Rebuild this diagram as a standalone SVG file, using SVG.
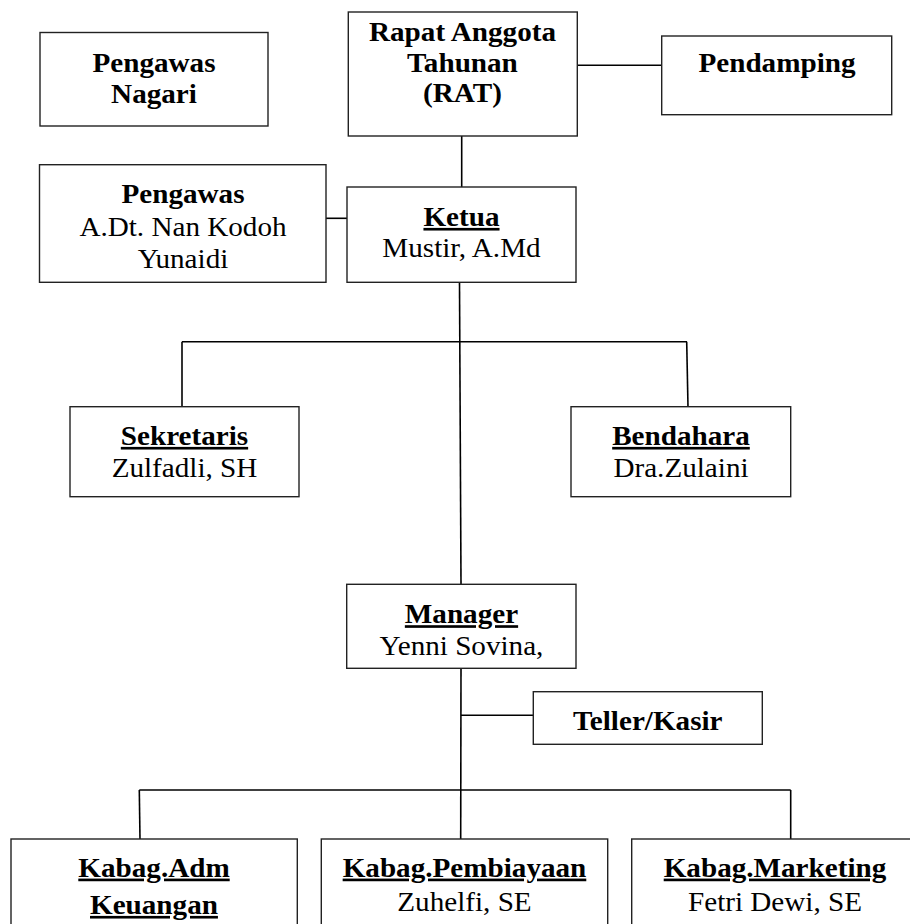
<svg xmlns="http://www.w3.org/2000/svg" width="910" height="924" viewBox="0 0 910 924">
<style>
.box{fill:#fff;stroke:#222;stroke-width:1.4}
.ln{stroke:#000;stroke-width:1.6;fill:none}
.t{font-size:26.5px;text-anchor:middle;transform-box:fill-box;transform-origin:center;transform:scaleX(1.1)}
.b{font-weight:bold}
.u{font-weight:bold;text-decoration:underline}
</style>
<rect width="910" height="924" fill="#fff"/>
<g id="connectors">
<line class="ln" x1="577" y1="65.3" x2="662" y2="65.3"/>
<line class="ln" x1="461.7" y1="136" x2="461.7" y2="187"/>
<line class="ln" x1="326" y1="218.3" x2="347" y2="218.3"/>
<line class="ln" x1="459.5" y1="282" x2="461" y2="584"/>
<line class="ln" x1="182" y1="341.7" x2="687" y2="341.7"/>
<line class="ln" x1="182" y1="341.7" x2="182" y2="407"/>
<line class="ln" x1="686.7" y1="341.7" x2="688" y2="407"/>
<line class="ln" x1="461" y1="668" x2="460.7" y2="839"/>
<line class="ln" x1="461" y1="715.3" x2="533" y2="715.3"/>
<line class="ln" x1="139.3" y1="790" x2="790.7" y2="790"/>
<line class="ln" x1="139.3" y1="790" x2="140" y2="839"/>
<line class="ln" x1="790.7" y1="790" x2="790.7" y2="839"/>
</g>
<g id="pengawas-nagari">
<rect class="box" x="40" y="32.5" width="228" height="93.5"/>
<text class="t b" font-family="Liberation Serif, serif" x="154" y="71.7">Pengawas</text>
<text class="t b" font-family="Liberation Serif, serif" x="154" y="103.3">Nagari</text>
</g>
<g id="rat">
<rect class="box" x="348.3" y="12" width="229" height="124"/>
<text class="t b" font-family="Liberation Serif, serif" x="462.5" y="41.2">Rapat Anggota</text>
<text class="t b" font-family="Liberation Serif, serif" x="462.5" y="71.6">Tahunan</text>
<text class="t b" font-family="Liberation Serif, serif" x="462.5" y="102">(RAT)</text>
</g>
<g id="pendamping">
<rect class="box" x="661.7" y="36" width="230" height="78.7"/>
<text class="t b" font-family="Liberation Serif, serif" x="777" y="71.7">Pendamping</text>
</g>
<g id="pengawas">
<rect class="box" x="39.5" y="164.7" width="286.5" height="117.6"/>
<text class="t b" font-family="Liberation Serif, serif" x="183" y="203.3">Pengawas</text>
<text class="t" font-family="Liberation Serif, serif" x="183" y="236">A.Dt. Nan Kodoh</text>
<text class="t" font-family="Liberation Serif, serif" x="183" y="268.3">Yunaidi</text>
</g>
<g id="ketua">
<rect class="box" x="347" y="187" width="229" height="95.3"/>
<text class="t u" font-family="Liberation Serif, serif" x="461.5" y="226">Ketua</text>
<text class="t" font-family="Liberation Serif, serif" x="461.5" y="257.3">Mustir, A.Md</text>
</g>
<g id="sekretaris">
<rect class="box" x="70" y="406.7" width="229" height="90"/>
<text class="t u" font-family="Liberation Serif, serif" x="184.5" y="445">Sekretaris</text>
<text class="t" font-family="Liberation Serif, serif" x="184.5" y="476.7">Zulfadli, SH</text>
</g>
<g id="bendahara">
<rect class="box" x="571" y="406.7" width="219.7" height="90"/>
<text class="t u" font-family="Liberation Serif, serif" x="681" y="445">Bendahara</text>
<text class="t" font-family="Liberation Serif, serif" x="681" y="476.7">Dra.Zulaini</text>
</g>
<g id="manager">
<rect class="box" x="346.7" y="584.3" width="229.3" height="84"/>
<text class="t u" font-family="Liberation Serif, serif" x="461.5" y="623.3">Manager</text>
<text class="t" font-family="Liberation Serif, serif" x="461.5" y="655">Yenni Sovina,</text>
</g>
<g id="teller">
<rect class="box" x="533.3" y="691.7" width="229" height="52.6"/>
<text class="t b" font-family="Liberation Serif, serif" x="647.8" y="730">Teller/Kasir</text>
</g>
<g id="kabag-adm">
<rect class="box" x="11" y="839" width="286.3" height="100"/>
<text class="t u" font-family="Liberation Serif, serif" x="154" y="876.7">Kabag.Adm</text>
<text class="t u" font-family="Liberation Serif, serif" x="154" y="914">Keuangan</text>
</g>
<g id="kabag-pembiayaan">
<rect class="box" x="321.3" y="839" width="286.4" height="100"/>
<text class="t u" font-family="Liberation Serif, serif" x="464.5" y="876.7">Kabag.Pembiayaan</text>
<text class="t" font-family="Liberation Serif, serif" x="464.5" y="910.7">Zuhelfi, SE</text>
</g>
<g id="kabag-marketing">
<rect class="box" x="631.7" y="839" width="287" height="100"/>
<text class="t u" font-family="Liberation Serif, serif" x="775" y="876.7">Kabag.Marketing</text>
<text class="t" font-family="Liberation Serif, serif" x="775" y="910.7">Fetri Dewi, SE</text>
</g>
</svg>
